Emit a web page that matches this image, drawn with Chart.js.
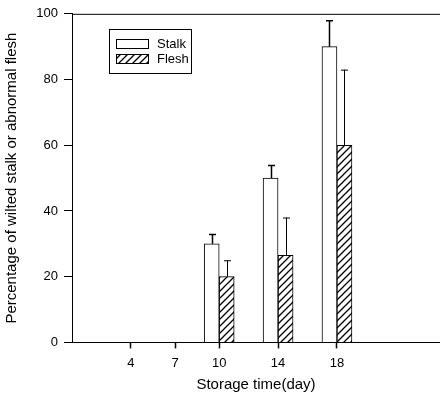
<!DOCTYPE html>
<html>
<head>
<meta charset="utf-8">
<script src="https://cdn.jsdelivr.net/npm/chart.js@4/dist/chart.umd.min.js"></script>
<style>
  html, body { margin: 0; padding: 0; background: #fff; }
  canvas { display: block; }
</style>
</head>
<body>
<canvas id="chart" width="440" height="394"></canvas>
<script>
// storage days shown on the x axis
const tickDays = [4, 7, 10, 14, 18];
// days that have measurements
const barDays = [10, 14, 18];
const stalk = [30, 50, 90];
const stalkErr = [3, 4, 8];
const flesh = [20, 26.5, 60];
const fleshErr = [5, 11.5, 23];
const yTicks = [0, 20, 40, 60, 80, 100];

const FAMILY = '"Liberation Sans", Arial, sans-serif';
const TICK_FONT = { family: FAMILY, size: 13 };
const TITLE_FONT = { family: FAMILY, size: 15 };

function hatch() {
  const c = document.createElement('canvas');
  c.width = 7;
  c.height = 7;
  const g = c.getContext('2d');
  g.fillStyle = '#fff';
  g.fillRect(0, 0, 7, 7);
  g.strokeStyle = '#000';
  g.lineWidth = 1.3;
  g.beginPath();
  g.moveTo(-1, 8); g.lineTo(8, -1);
  g.moveTo(-1, 1); g.lineTo(1, -1);
  g.moveTo(6, 8); g.lineTo(8, 6);
  g.stroke();
  return g.createPattern(c, 'repeat');
}

const errors = [stalkErr, fleshErr];

// top frame line
const frame = {
  id: 'frame',
  afterDraw(chart) {
    const { ctx, chartArea } = chart;
    ctx.save();
    ctx.strokeStyle = '#000';
    ctx.lineWidth = 1;
    ctx.beginPath();
    ctx.moveTo(chartArea.left, chartArea.top + 0.5);
    ctx.lineTo(chartArea.right, chartArea.top + 0.5);
    ctx.stroke();
    ctx.restore();
  },
};

const errorBars = {
  id: 'errorBars',
  afterDatasetsDraw(chart) {
    const { ctx } = chart;
    const y = chart.scales.y;
    ctx.save();
    ctx.strokeStyle = '#000';
    chart.data.datasets.forEach((ds, di) => {
      const meta = chart.getDatasetMeta(di);
      ctx.lineWidth = di === 0 ? 1.5 : 1;
      meta.data.forEach((bar, i) => {
        const top = y.getPixelForValue(ds.data[i].y + errors[di][i]);
        const x = Math.round(bar.x) + 0.5;
        ctx.beginPath();
        ctx.moveTo(x, bar.y);
        ctx.lineTo(x, top);
        ctx.moveTo(x - 3.5, top + 0.5);
        ctx.lineTo(x + 3.5, top + 0.5);
        ctx.stroke();
      });
    });
    ctx.restore();
  },
};

const legendBox = {
  id: 'legendBox',
  afterDraw(chart) {
    const { ctx } = chart;
    const x0 = 109, y0 = 29, w = 82, h = 44;
    ctx.save();
    ctx.strokeStyle = '#000';
    ctx.lineWidth = 1;
    ctx.strokeRect(x0 + 0.5, y0 + 0.5, w, h);
    ctx.font = '13px ' + FAMILY;
    ctx.textBaseline = 'middle';
    chart.data.datasets.forEach((ds, i) => {
      const sy = y0 + 10 + i * 15;
      ctx.fillStyle = ds.backgroundColor;
      ctx.fillRect(x0 + 7, sy, 32, 9);
      ctx.strokeRect(x0 + 7.5, sy + 0.5, 32, 9);
      ctx.fillStyle = '#000';
      ctx.fillText(ds.label, x0 + 48, sy + 5);
    });
    ctx.restore();
  },
};

new Chart(document.getElementById('chart'), {
  type: 'bar',
  data: {
    datasets: [
      {
        label: 'Stalk',
        data: barDays.map((d, i) => ({ x: d, y: stalk[i] })),
        backgroundColor: '#fff',
        borderColor: '#000',
        borderWidth: 1,
      },
      {
        label: 'Flesh',
        data: barDays.map((d, i) => ({ x: d, y: flesh[i] })),
        backgroundColor: hatch(),
        borderColor: '#000',
        borderWidth: 1,
      },
    ],
  },
  options: {
    responsive: false,
    animation: false,
    barThickness: 15,
    layout: { padding: { top: 13, right: 0, bottom: 0, left: 0 } },
    plugins: { legend: { display: false }, tooltip: { enabled: false } },
    scales: {
      x: {
        type: 'linear',
        offset: false,
        min: 0,
        max: 25,
        afterBuildTicks: (scale) => { scale.ticks = tickDays.map((v) => ({ value: v })); },
        grid: { offset: false, drawOnChartArea: false, drawTicks: true, tickLength: 6, tickWidth: 1.5, color: '#000' },
        border: { color: '#000' },
        ticks: { color: '#000', font: TICK_FONT, padding: 7, maxRotation: 0 },
        title: { display: true, text: 'Storage time(day)', color: '#000', font: TITLE_FONT, padding: { top: -2, bottom: 0 } },
      },
      y: {
        min: 0,
        max: 100,
        afterBuildTicks: (scale) => { scale.ticks = yTicks.map((v) => ({ value: v })); },
        afterFit: (scale) => { scale.width = 72; },
        grid: { drawOnChartArea: false, tickLength: 8, color: '#000' },
        border: { color: '#000' },
        ticks: { color: '#000', font: TICK_FONT, padding: 6 },
        title: { display: true, text: 'Percentage of wilted stalk or abnormal flesh', color: '#000', font: TITLE_FONT, padding: { top: 3, bottom: 0 } },
      },
    },
  },
  plugins: [errorBars, frame, legendBox],
});
</script>
</body>
</html>
